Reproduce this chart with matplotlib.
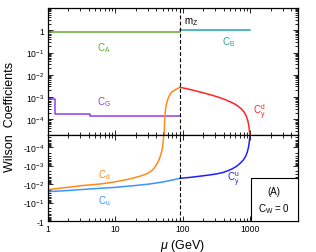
import numpy as np
import matplotlib
matplotlib.use('Agg')
import matplotlib.pyplot as plt
from matplotlib.patches import Rectangle
from matplotlib.ticker import FixedLocator, LogLocator, NullFormatter

plt.rcParams['font.family'] = ['Liberation Sans', 'DejaVu Sans']
plt.rcParams['mathtext.fontset'] = 'custom'
plt.rcParams['mathtext.rm'] = 'Liberation Sans'
plt.rcParams['mathtext.it'] = 'Liberation Sans:italic'
plt.rcParams['mathtext.bf'] = 'Liberation Sans:bold'

# escalas (GeV)
m_c, m_b, m_Z, Lam = 1.27, 4.18, 91.19, 1000.0

# C_A (mu < mZ) y C_B (mZ < mu < Lambda)
mu_A = [1.0, m_Z]
c_A = [0.81, 0.81]
mu_B = [m_Z, Lam]
c_B = [1.02, 1.02]

# C_G escalonado en los umbrales de c y b
mu_G = [1.0, m_c, m_c, m_b, m_b, m_Z]
c_G = [8.5e-4, 8.5e-4, 1.75e-4, 1.75e-4, 1.4e-4, 1.4e-4]

# C_d (cambia de signo cerca de 52 GeV)
mu_d = [1.0, 2.0, 3.3, 5.9, 10, 16, 23, 27, 31, 35, 38, 41, 44, 46.5,
        48.5, 50.3, 51.5, 52.3,
        52.7, 53.3, 54.2, 55.3, 57, 59.8, 63, 67.2, 73, 79.7, 86, m_Z]
c_d = [-0.020, -0.015, -0.012, -0.010, -0.0076, -0.0054, -0.0038, -0.0031,
       -0.0025, -0.0018, -0.0013, -8.5e-4, -5e-4, -3e-4,
       -1.7e-4, -8e-5, -3.5e-5, -1e-5,
       1e-5, 6e-5, 1.5e-4, 2.9e-4, 4.8e-4, 8.1e-4, 1.15e-3, 1.6e-3, 1.95e-3,
       2.26e-3, 2.55e-3, 2.75e-3]

# C_u
mu_u = [1.0, 2.0, 4.0, 10, 20, 32, 50, 70, m_Z]
c_u = [-0.026, -0.0224, -0.0187, -0.0151, -0.0120, -0.0100, -0.0078,
       -0.0061, -0.0049]

# C_y^d y C_y^u entre mZ y Lambda
mu_yd = [m_Z, 120, 160, 210, 270, 340, 420, 500, 580, 660, 740, 810, 870,
         920, 955, 980, 1000]
c_yd = [2.75e-3, 2.3e-3, 1.85e-3, 1.5e-3, 1.22e-3, 9.8e-4, 7.8e-4, 6.2e-4,
        5.0e-4, 3.9e-4, 2.9e-4, 2.1e-4, 1.4e-4, 8.5e-5, 4.5e-5, 2.2e-5, 1e-5]
mu_yu = [m_Z, 130, 176, 240, 313, 390, 460, 540, 620, 700, 780, 850, 900,
         940, 970, 990, 1000]
c_yu = [-4.9e-3, -4.35e-3, -3.8e-3, -3.3e-3, -2.85e-3, -2.4e-3, -1.95e-3,
        -1.5e-3, -1.12e-3, -7.8e-4, -5.2e-4, -3.2e-4, -1.9e-4, -1.0e-4,
        -4.5e-5, -2e-5, -8e-6]

col_A = '#63a832'
col_B = '#1fa6a6'
col_G = '#8f3cf0'
col_d = '#ff8a1c'
col_u = '#3a96ff'
col_yd = '#ff2424'
col_yu = '#1f1fff'

fig = plt.figure(figsize=(3.16, 2.53), dpi=100)
W, H = 316.0, 253.0
x0, x1 = 48.0, 297.5
y_top, y_mid, y_bot = 9.0, 136.0, 222.0
ax1 = fig.add_axes([x0 / W, 1 - y_mid / H, (x1 - x0) / W, (y_mid - y_top) / H])
ax2 = fig.add_axes([x0 / W, 1 - y_bot / H, (x1 - x0) / W, (y_bot - y_mid) / H])


def positivos(mu, c):
    mu = np.array(mu, float)
    c = np.array(c, float)
    m = c > 0
    return mu[m], c[m]


def negativos(mu, c):
    mu = np.array(mu, float)
    c = np.array(c, float)
    m = c < 0
    return mu[m], -c[m]


lw = 1.1
ax1.plot(mu_A, c_A, color=col_A, lw=lw)
ax1.plot(mu_B, c_B, color=col_B, lw=lw)
ax1.plot(mu_G, c_G, color=col_G, lw=lw)
ax1.plot(*positivos(mu_d, c_d), color=col_d, lw=lw)
ax1.plot(*positivos(mu_yd, c_yd), color=col_yd, lw=lw)
ax2.plot(*negativos(mu_d, c_d), color=col_d, lw=lw)
ax2.plot(*negativos(mu_u, c_u), color=col_u, lw=lw)
ax2.plot(*negativos(mu_yu, c_yu), color=col_yu, lw=lw)

for ax in (ax1, ax2):
    ax.set_xscale('log')
    ax.set_yscale('log')
    ax.set_xlim(1, 5000)
    ax.axvline(m_Z, color='black', lw=0.8, dashes=(3.5, 2))
    ax.tick_params(which='both', direction='in', top=True, right=True,
                   labelsize=6.2, width=0.6, pad=2.5)
    ax.tick_params(which='major', length=3.5)
    ax.tick_params(which='minor', length=2)
    ax.xaxis.set_major_locator(FixedLocator([1, 10, 100, 1000]))
    ax.xaxis.set_minor_locator(LogLocator(base=10, subs=np.arange(2, 10)))
    ax.xaxis.set_minor_formatter(NullFormatter())
    ax.yaxis.set_minor_locator(LogLocator(base=10, subs=np.arange(2, 10), numticks=20))
    ax.yaxis.set_minor_formatter(NullFormatter())
    for s in ax.spines.values():
        s.set_linewidth(0.9)

ax1.set_ylim(10 ** -4.7, 10)
ax1.set_yticks([10, 1, 0.1, 1e-2, 1e-3, 1e-4])
ax1.set_yticklabels(['', '1', '$10^{-1}$', '$10^{-2}$', '$10^{-3}$', '$10^{-4}$'])
ax1.tick_params(labelbottom=False)

ax2.set_ylim(1, 10 ** -4.65)
ax2.set_yticks([1, 0.1, 1e-2, 1e-3, 1e-4])
ax2.set_yticklabels(['-1', '-$10^{-1}$', '-$10^{-2}$', '-$10^{-3}$', '-$10^{-4}$'])
ax2.set_xticklabels(['1', '10', '100', '1000'])

# etiquetas de las curvas
fs = 7
ax1.text(6.7, 0.17, r'$\mathrm{C_A}$', color=col_A, fontsize=fs, ha='center', va='center')
ax1.text(470, 0.32, r'$\mathrm{C_B}$', color=col_B, fontsize=fs, ha='center', va='center')
ax1.text(6.7, 6.6e-4, r'$\mathrm{C_G}$', color=col_G, fontsize=fs, ha='center', va='center')
ax1.text(105, 2.6, r'$\mathrm{m_Z}$', color='black', fontsize=fs, ha='left', va='center')
ax1.text(1350, 2.3e-4, r'$\mathrm{C_y^d}$', color=col_yd, fontsize=fs, ha='center', va='center')
ax2.text(6.7, 2.9e-3, r'$\mathrm{C_d}$', color=col_d, fontsize=fs, ha='center', va='center')
ax2.text(6.7, 7.3e-2, r'$\mathrm{C_u}$', color=col_u, fontsize=fs, ha='center', va='center')
ax2.text(558, 4.7e-3, r'$\mathrm{C_y^u}$', color=col_yu, fontsize=fs, ha='center', va='center')

# recuadro del escenario
bx = (250.7 - x0) / (x1 - x0)
by = (y_bot - 179.3) / (y_bot - y_mid)
ax2.add_patch(Rectangle((bx, 0), 1 - bx, by, transform=ax2.transAxes,
                        facecolor='white', edgecolor='black', lw=0.8, zorder=3))
ax2.text((bx + 1) / 2, by * 0.7, '(A)', transform=ax2.transAxes, fontsize=fs,
         ha='center', va='center', zorder=4)
ax2.text((bx + 1) / 2, by * 0.3, r'$\mathrm{C_W}$ = 0', transform=ax2.transAxes,
         fontsize=fs, ha='center', va='center', zorder=4)

fig.text(182.5 / W, 1 - 246.5 / H, r'$\mu$ (GeV)', fontsize=9, ha='center', va='center')
fig.text(10 / W, 1 - 117 / H, 'Wilson  Coefficients', fontsize=9, rotation=90,
         ha='center', va='center')

fig.savefig('out.png', dpi=100)
